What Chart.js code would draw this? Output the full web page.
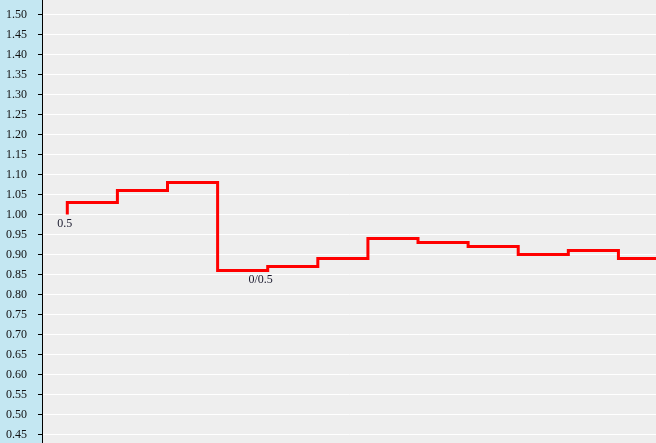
<!DOCTYPE html>
<html>
<head>
<meta charset="utf-8">
<script src="https://cdn.jsdelivr.net/npm/chart.js@4/dist/chart.umd.min.js"></script>
<style>
  html, body { margin: 0; padding: 0; background: #eeeeee; }
  #wrap { width: 656px; height: 443px; }
</style>
</head>
<body>
<div id="wrap"><canvas id="stepChart"></canvas></div>
<script>
// data
const positions = [0, 1, 2, 3, 4, 5, 6, 7, 8, 9, 10, 11, 12];
const values = [1.00, 1.03, 1.06, 1.08, 0.86, 0.87, 0.89, 0.94, 0.93, 0.92, 0.90, 0.91, 0.89];
const pointNotes = ['0.5', '', '', '', '0/0.5', '', '', '', '', '', '', '', ''];
const yTicks = [0.45, 0.50, 0.55, 0.60, 0.65, 0.70, 0.75, 0.80, 0.85, 0.90, 0.95, 1.00,
  1.05, 1.10, 1.15, 1.20, 1.25, 1.30, 1.35, 1.40, 1.45, 1.50];

// backgrounds: blue strip behind the axis, grey plot area
const bgPlugin = {
  id: 'bg',
  beforeDraw(chart) {
    const c = chart.ctx, a = chart.chartArea;
    c.save();
    c.fillStyle = '#c4e7f2';
    c.fillRect(0, 0, a.left, chart.height);
    c.fillStyle = '#eeeeee';
    c.fillRect(a.left, 0, chart.width - a.left, chart.height);
    c.restore();
  }
};

// small text notes under some points
const notePlugin = {
  id: 'notes',
  afterDatasetsDraw(chart) {
    const c = chart.ctx;
    const pts = chart.getDatasetMeta(0).data;
    c.save();
    c.font = '12px "Liberation Serif"';
    c.fillStyle = '#1a1a2e';
    c.textAlign = 'right';
    c.textBaseline = 'top';
    pts.forEach((p, i) => {
      if (pointNotes[i]) c.fillText(pointNotes[i], p.x + 5, p.y + 3);
    });
    c.restore();
  }
};

const ctx = document.getElementById('stepChart').getContext('2d');
new Chart(ctx, {
  type: 'line',
  data: {
    datasets: [{
      data: positions.map((x, i) => ({ x: x, y: values[i] })),
      borderColor: '#ff0000',
      borderWidth: 3,
      stepped: 'after',
      pointRadius: 0,
      fill: false
    }]
  },
  options: {
    responsive: true,
    maintainAspectRatio: false,
    animation: false,
    layout: { padding: 0 },
    plugins: { legend: { display: false }, tooltip: { enabled: false } },
    scales: {
      x: {
        type: 'linear',
        display: false,
        min: -0.505,
        max: 11.75
      },
      y: {
        min: 0.429,
        max: 1.536,
        afterBuildTicks(scale) {
          scale.ticks = yTicks.map(v => ({ value: v }));
        },
        afterFit(scale) {
          scale.width = 42;
          scale.paddingTop = 0;
          scale.paddingBottom = 0;
        },
        border: { display: true, color: '#000000', width: 1 },
        grid: {
          color: '#ffffff',
          lineWidth: 1,
          tickColor: '#000000',
          tickLength: 4
        },
        ticks: {
          padding: 11,
          color: '#111111',
          font: { family: '"Liberation Serif"', size: 12 },
          callback: v => v.toFixed(2)
        }
      }
    }
  },
  plugins: [bgPlugin, notePlugin]
});
</script>
</body>
</html>
